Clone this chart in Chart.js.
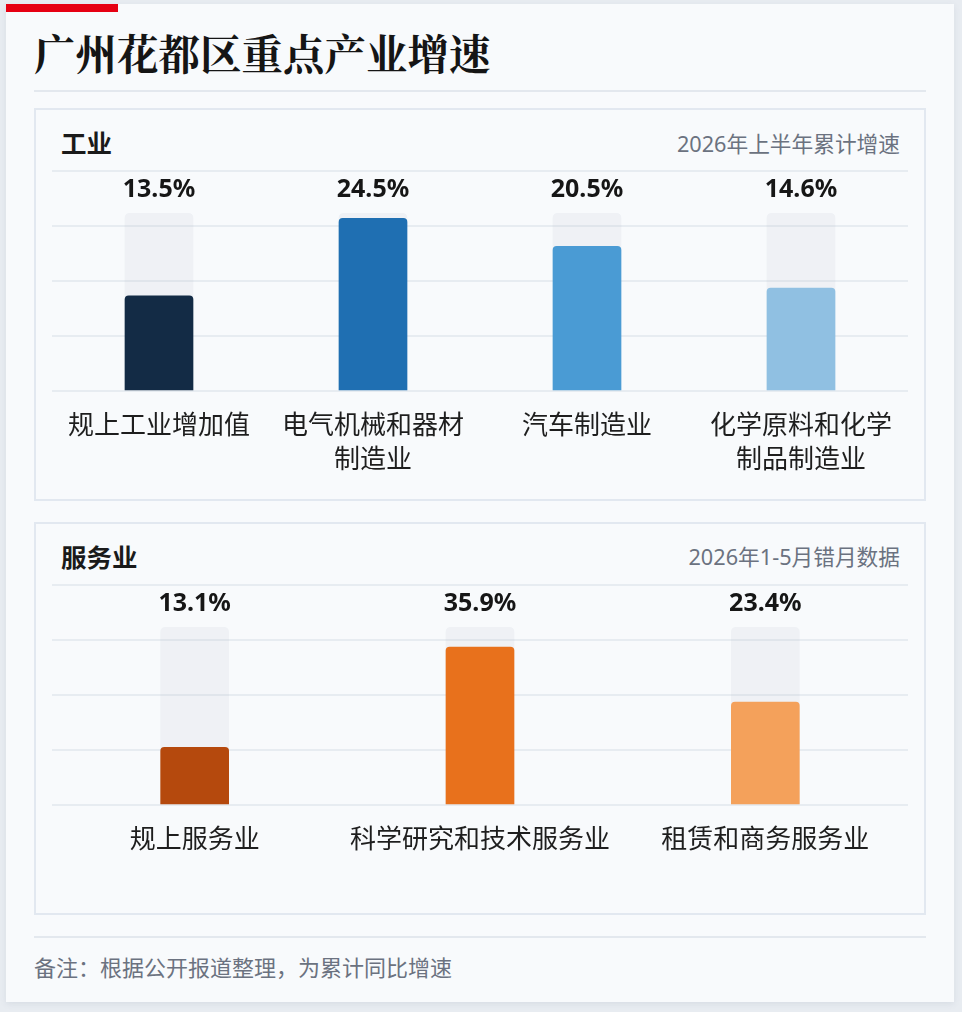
<!DOCTYPE html>
<html lang="zh">
<head>
<meta charset="utf-8">
<title>广州花都区重点产业增速</title>
<script src="https://cdn.jsdelivr.net/npm/chart.js@4.4.1/dist/chart.umd.min.js"></script>
<style>
  html, body { margin: 0; padding: 0; }
  body {
    width: 962px; height: 1012px; background: #e8ecf1; position: relative; overflow: hidden;
    font-family: "Noto Sans", "Noto Sans CJK SC", sans-serif;
  }
  .card {
    position: absolute; left: 6px; top: 4px; width: 948px; height: 998px;
    background: #f8fafc; box-shadow: 0 2px 6px rgba(100,116,139,0.12);
  }
  .redbar { position: absolute; left: 6px; top: 4px; width: 112px; height: 8px; background: #e60012; }
  .title {
    position: absolute; left: 34px; top: 26px; margin: 0;
    font-family: "Noto Serif CJK SC", "Noto Serif SC", serif, "Noto Sans CJK SC";
    font-weight: 700; font-size: 41.5px; line-height: 52px; color: #151515; letter-spacing: 0px;
  }
  .hline { position: absolute; left: 34px; width: 892px; height: 2px; background: #e3e8ee; }
  .panel {
    position: absolute; left: 34px; width: 888px; border: 2px solid #e2e8f0; background: #f8fafc;
  }
  .ptitle {
    position: absolute; left: 61px; font-weight: 700; font-size: 25.5px; line-height: 30px; color: #1a1a1a;
    font-family: "Noto Sans CJK SC", sans-serif;
  }
  .psub {
    position: absolute; right: 62px; font-size: 21.7px; line-height: 28px; color: #6b7280;
  }
  canvas { position: absolute; left: 36px; }
  .foot { position: absolute; left: 34px; top: 953px; font-size: 22px; line-height: 28px; color: #6b7280; }
</style>
</head>
<body>
<div class="card"></div>
<div class="redbar"></div>
<h1 class="title">广州花都区重点产业增速</h1>
<div class="hline" style="top:90px"></div>

<div class="panel" style="top:108px; height:389px"></div>
<div class="ptitle" style="top:127px">工业</div>
<div class="psub" style="top:130px">2026年上半年累计增速</div>
<canvas id="c1" width="888" height="345" style="top:150px"></canvas>

<div class="panel" style="top:522px; height:389px"></div>
<div class="ptitle" style="top:541px">服务业</div>
<div class="psub" style="top:543px">2026年1-5月错月数据</div>
<canvas id="c2" width="888" height="345" style="top:564px"></canvas>

<div class="hline" style="top:936px"></div>
<div class="foot">备注：根据公开报道整理，为累计同比增速</div>

<script>
// ---- data ----
const industryCategories = [['规上工业增加值'], ['电气机械和器材', '制造业'], ['汽车制造业'], ['化学原料和化学', '制品制造业']];
const industryValues = [13.5, 24.5, 20.5, 14.6];
const industryColors = ['#132b45', '#1f6fb2', '#4a9bd4', '#90c0e2'];

const serviceCategories = ['规上服务业', '科学研究和技术服务业', '租赁和商务服务业'];
const serviceValues = [13.1, 35.9, 23.4];
const serviceColors = ['#b5490d', '#e8711c', '#f4a15b'];

const industryAxisMax = 31.2;
const serviceAxisMax = 50;
const trackRatio = 0.808;

const FONT = '"Noto Sans", "Noto Sans CJK SC", sans-serif';

const valueLabelPlugin = {
  id: 'valueLabels',
  afterDatasetsDraw(chart) {
    const ctx = chart.ctx;
    const meta = chart.getDatasetMeta(0);
    const ys = chart.scales.y;
    const track = chart.data.datasets[1].data[0];
    const yTop = ys.getPixelForValue(track) - 23;
    ctx.save();
    ctx.font = '700 25px ' + FONT;
    ctx.fillStyle = '#161616';
    ctx.textAlign = 'center';
    ctx.textBaseline = 'middle';
    chart.data.datasets[0].data.forEach((v, i) => {
      ctx.fillText(v.toFixed(1) + '%', meta.data[i].x, yTop);
    });
    ctx.restore();
  }
};

function makeChart(id, labels, values, colors, axisMax) {
  const track = values.map(() => axisMax * trackRatio);
  return new Chart(document.getElementById(id), {
    type: 'bar',
    data: {
      labels: labels,
      datasets: [
        {
          data: values,
          backgroundColor: colors,
          barThickness: 68,
          borderRadius: { topLeft: 4, topRight: 4 },
          borderSkipped: 'bottom',
          grouped: false,
          order: 0
        },
        {
          data: track,
          backgroundColor: 'rgba(176,182,198,0.13)',
          barThickness: 68,
          borderRadius: { topLeft: 5, topRight: 5 },
          borderSkipped: 'bottom',
          grouped: false,
          order: 1
        }
      ]
    },
    options: {
      responsive: false,
      animation: false,
      events: [],
      layout: { padding: { left: 16, right: 16, top: 21, bottom: 0 } },
      plugins: { legend: { display: false }, tooltip: { enabled: false } },
      scales: {
        x: {
          grid: { display: false, drawTicks: false },
          border: { display: false },
          ticks: {
            color: '#1e1e1e',
            font: { family: FONT, size: 26, lineHeight: 1.33 },
            padding: 18,
            maxRotation: 0,
            autoSkip: false
          },
          afterFit(s) { s.height = 104; }
        },
        y: {
          min: 0,
          max: axisMax,
          grid: { color: '#e7ecf1', lineWidth: 2, drawTicks: false },
          border: { display: false },
          ticks: { display: false, count: 5 },
          afterFit(s) { s.width = 0; }
        }
      }
    },
    plugins: [valueLabelPlugin]
  });
}

makeChart('c1', industryCategories, industryValues, industryColors, industryAxisMax);
makeChart('c2', serviceCategories, serviceValues, serviceColors, serviceAxisMax);
</script>
</body>
</html>
